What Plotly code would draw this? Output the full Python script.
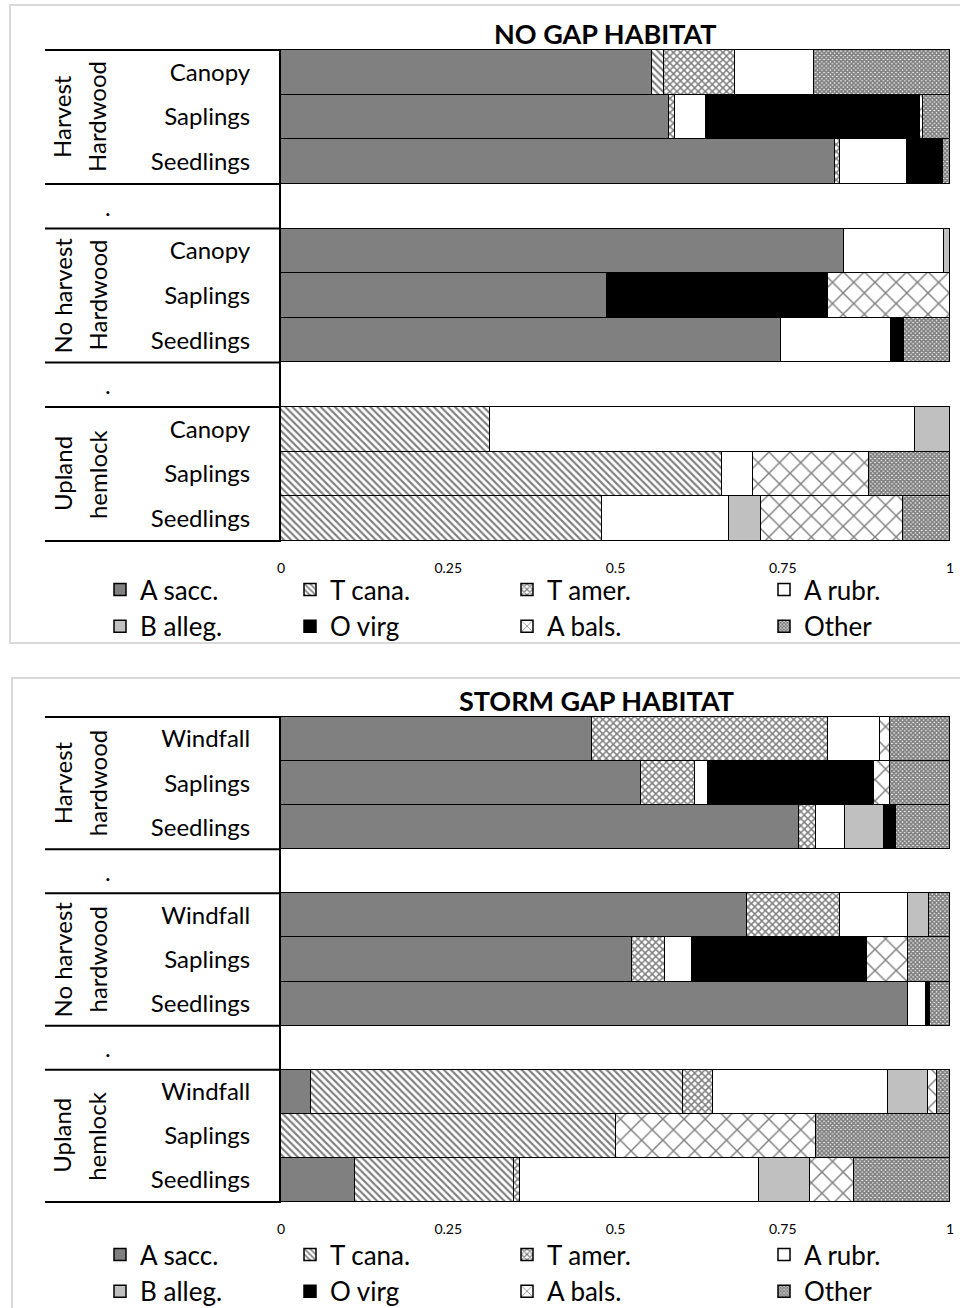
import plotly.graph_objects as go

# ---------------- data ----------------
species = ["A sacc.", "T cana.", "T amer.", "A rubr.", "B alleg.", "O virg", "A bals.", "Other"]

groups_top = [("Harvest", "Hardwood"), ("No harvest", "Hardwood"), ("Upland", "hemlock")]
groups_bot = [("Harvest", "hardwood"), ("No harvest", "hardwood"), ("Upland", "hemlock")]
layers_top = ["Canopy", "Saplings", "Seedlings"]
layers_bot = ["Windfall", "Saplings", "Seedlings"]

# NO GAP HABITAT: rows = group x layer (9 rows)
nogap = {
    "A sacc.":  [0.555, 0.580, 0.828, 0.842, 0.488, 0.747, 0, 0, 0],
    "T cana.":  [0.017, 0, 0, 0, 0, 0, 0.312, 0.659, 0.480],
    "T amer.":  [0.107, 0.009, 0.008, 0, 0, 0, 0, 0, 0],
    "A rubr.":  [0.117, 0.046, 0.100, 0.149, 0, 0.165, 0.636, 0.047, 0.190],
    "B alleg.": [0, 0, 0, 0.009, 0, 0, 0.052, 0, 0.048],
    "O virg":   [0, 0.320, 0.054, 0, 0.330, 0.019, 0, 0, 0],
    "A bals.":  [0, 0.004, 0, 0, 0.182, 0, 0, 0.173, 0.212],
    "Other":    [0.204, 0.041, 0.010, 0, 0, 0.069, 0, 0.121, 0.070],
}
# STORM GAP HABITAT
storm = {
    "A sacc.":  [0.465, 0.538, 0.774, 0.696, 0.524, 0.937, 0.045, 0, 0.111],
    "T cana.":  [0, 0, 0, 0, 0, 0, 0.556, 0.500, 0.238],
    "T amer.":  [0.352, 0.081, 0.025, 0.139, 0.050, 0, 0.045, 0, 0.008],
    "A rubr.":  [0.078, 0.020, 0.044, 0.102, 0.041, 0.027, 0.262, 0, 0.358],
    "B alleg.": [0, 0, 0.059, 0.032, 0, 0, 0.059, 0, 0.076],
    "O virg":   [0, 0.248, 0.017, 0, 0.261, 0.006, 0, 0, 0],
    "A bals.":  [0.015, 0.023, 0, 0, 0.061, 0, 0.014, 0.300, 0.065],
    "Other":    [0.090, 0.090, 0.081, 0.031, 0.063, 0.030, 0.019, 0.200, 0.144],
}
xtick_vals = [0, 0.25, 0.5, 0.75, 1]
xtick_text = ["0", "0.25", "0.5", "0.75", "1"]

# ---------------- styles ----------------
FONT = "Lato"
styles = {
    "A sacc.":  dict(color="#808080"),
    "T cana.":  dict(color="white", pattern=dict(shape="\\", size=5, solidity=0.42, fgcolor="black", bgcolor="white")),
    "T amer.":  dict(color="white", pattern=dict(shape="x", size=5, solidity=0.5, fgcolor="black", bgcolor="white")),
    "A rubr.":  dict(color="white"),
    "B alleg.": dict(color="#c0c0c0"),
    "O virg":   dict(color="black"),
    "A bals.":  dict(color="white", pattern=dict(shape="x", size=15, solidity=0.18, fgcolor="black", bgcolor="white")),
    "Other":    dict(color="white", pattern=dict(shape="x", size=3, solidity=0.8, fgcolor="black", bgcolor="white")),
}

W, H = 960, 1308
def py(px):
    return 1 - px / H

legend_cols_px = [100, 290, 507, 764]

def build_rows(prefix, layers):
    cats, ticktext = [], []
    for g in range(3):
        for l in layers:
            cats.append(f"{prefix}{g}-{l}"); ticktext.append(l)
        if g < 2:
            cats.append(f"{prefix}gap{g}"); ticktext.append("")
    return cats, ticktext

fig = go.Figure()
panels = [
    dict(data=nogap, prefix="a", layers=layers_top, groups=groups_top, x="x", y="y",
         title="NO GAP HABITAT", title_x=605, dom=(542, 49), title_y=33,
         leg=dict(y=py(566), yanchor="top"), box=(10, 5, 643)),
    dict(data=storm, prefix="b", layers=layers_bot, groups=groups_bot, x="x2", y="y2",
         title="STORM GAP HABITAT", title_x=596, dom=(1203, 716), title_y=700,
         leg=dict(y=py(1231), yanchor="top"), box=(12, 678, 1330)),
]

shapes, annotations = [], []
layout_upd = {}
for pi, p in enumerate(panels):
    cats, ticktext = build_rows(p["prefix"], p["layers"])
    for si, sp in enumerate(species):
        vals = p["data"][sp]
        xs, ys = [], []
        k = 0
        for c in cats:
            if "gap" in c:
                xs.append(None)
            else:
                v = vals[k]; k += 1
                xs.append(v if v > 0 else None)
            ys.append(c)
        st = styles[sp]
        marker = dict(color=st["color"], line=dict(color="black", width=1.5))
        if "pattern" in st:
            marker["pattern"] = st["pattern"]
        lnum = pi * 4 + (si % 4) + 1
        lid = "legend" if lnum == 1 else f"legend{lnum}"
        fig.add_trace(go.Bar(x=xs, y=ys, orientation="h", name=sp, marker=marker,
                             xaxis=p["x"], yaxis=p["y"], legend=lid))
    for col in range(4):
        lnum = pi * 4 + col + 1
        lid = "legend" if lnum == 1 else f"legend{lnum}"
        layout_upd[lid] = dict(orientation="v", x=legend_cols_px[col] / W, xanchor="left", **p["leg"],
                               traceorder="normal", font=dict(size=26, color="black", family=FONT),
                               bgcolor="rgba(0,0,0,0)", itemclick=False, itemdoubleclick=False,
                               tracegroupgap=0)
    sfx = "" if pi == 0 else "2"
    d0, d1 = p["dom"]
    layout_upd[f"yaxis{sfx}"] = dict(domain=[py(d0), py(d1)], anchor=p["x"], type="category",
                                     categoryorder="array", categoryarray=cats, autorange="reversed",
                                     tickvals=cats, ticktext=ticktext, ticklabelstandoff=24,
                                     tickfont=dict(size=24, color="black", family=FONT),
                                     showline=True, linecolor="black", linewidth=2, showgrid=False,
                                     ticks="", fixedrange=True)
    layout_upd[f"xaxis{sfx}"] = dict(domain=[281 / W, 950 / W], anchor=p["y"], range=[0, 1],
                                     tickvals=xtick_vals, ticktext=xtick_text, showgrid=False,
                                     zeroline=False, showline=False, ticks="", ticklabelstandoff=16,
                                     tickfont=dict(size=14, color="black", family=FONT))
    yref = p["y"]
    for b in [-0.5, 2.5, 3.5, 6.5, 7.5, 10.5]:
        shapes.append(dict(type="line", xref="paper", yref=yref, x0=45 / W, x1=280 / W, y0=b, y1=b,
                           line=dict(color="black", width=2)))
    for gi, (line1, line2) in enumerate(p["groups"]):
        for txt, xp in [(line1, 62), (line2, 97)]:
            annotations.append(dict(xref="paper", yref=yref, x=xp / W, y=gi * 4 + 1, text=txt,
                                    textangle=-90, showarrow=False, xanchor="center", yanchor="middle",
                                    font=dict(size=24, color="black", family=FONT)))
    for gy in [3, 7]:
        annotations.append(dict(xref="paper", yref=yref, x=108 / W, y=gy, text=".", showarrow=False,
                                xanchor="center", yanchor="middle",
                                font=dict(size=24, color="black", family=FONT)))
    annotations.append(dict(xref="paper", yref="paper", x=p["title_x"] / W, y=py(p["title_y"]),
                            text=f"<b>{p['title']}</b>", showarrow=False, xanchor="center",
                            yanchor="middle", font=dict(size=27, color="black", family=FONT)))
    bx, by0, by1 = p["box"]
    shapes.append(dict(type="rect", xref="paper", yref="paper", x0=bx / W, x1=1.02, y0=py(by1), y1=py(by0),
                       line=dict(color="#d9d9d9", width=2), layer="below"))

fig.update_layout(
    width=W, height=H, margin=dict(l=0, r=0, t=0, b=0, autoexpand=False),
    barmode="stack", bargap=0,
    plot_bgcolor="white", paper_bgcolor="white",
    shapes=shapes, annotations=annotations,
    font=dict(family=FONT, color="black"),
    **layout_upd,
)

fig.write_html("out.html")
